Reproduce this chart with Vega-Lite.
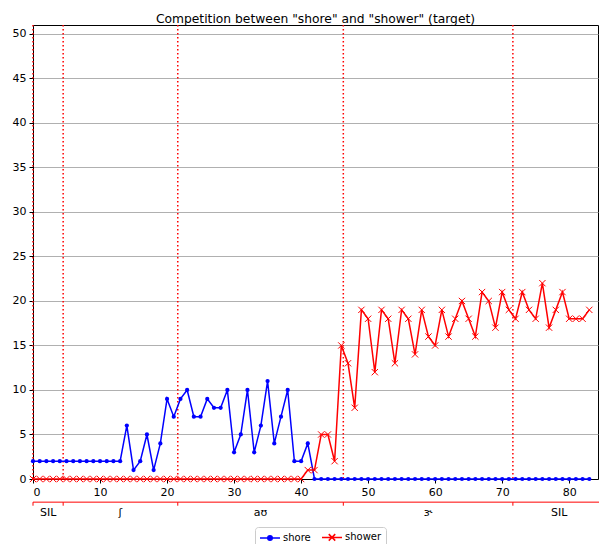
{
  "$schema": "https://vega.github.io/schema/vega-lite/v6.json",
  "width": 565,
  "height": 454,
  "autosize": {"type": "none"},
  "padding": {"left": 33, "top": 25, "right": 1, "bottom": 65},
  "title": {"text": "Competition between \"shore\" and \"shower\" (target)", "fontSize": 12.3, "fontWeight": "normal", "offset": -1, "color": "#000000", "anchor": "middle"},
  "datasets": {
    "counts": [
      {"frame": 0, "shore": 2, "shower": 0}, {"frame": 1, "shore": 2, "shower": 0}, {"frame": 2, "shore": 2, "shower": 0},
      {"frame": 3, "shore": 2, "shower": 0}, {"frame": 4, "shore": 2, "shower": 0}, {"frame": 5, "shore": 2, "shower": 0},
      {"frame": 6, "shore": 2, "shower": 0}, {"frame": 7, "shore": 2, "shower": 0}, {"frame": 8, "shore": 2, "shower": 0},
      {"frame": 9, "shore": 2, "shower": 0}, {"frame": 10, "shore": 2, "shower": 0}, {"frame": 11, "shore": 2, "shower": 0},
      {"frame": 12, "shore": 2, "shower": 0}, {"frame": 13, "shore": 2, "shower": 0}, {"frame": 14, "shore": 6, "shower": 0},
      {"frame": 15, "shore": 1, "shower": 0}, {"frame": 16, "shore": 2, "shower": 0}, {"frame": 17, "shore": 5, "shower": 0},
      {"frame": 18, "shore": 1, "shower": 0}, {"frame": 19, "shore": 4, "shower": 0}, {"frame": 20, "shore": 9, "shower": 0},
      {"frame": 21, "shore": 7, "shower": 0}, {"frame": 22, "shore": 9, "shower": 0}, {"frame": 23, "shore": 10, "shower": 0},
      {"frame": 24, "shore": 7, "shower": 0}, {"frame": 25, "shore": 7, "shower": 0}, {"frame": 26, "shore": 9, "shower": 0},
      {"frame": 27, "shore": 8, "shower": 0}, {"frame": 28, "shore": 8, "shower": 0}, {"frame": 29, "shore": 10, "shower": 0},
      {"frame": 30, "shore": 3, "shower": 0}, {"frame": 31, "shore": 5, "shower": 0}, {"frame": 32, "shore": 10, "shower": 0},
      {"frame": 33, "shore": 3, "shower": 0}, {"frame": 34, "shore": 6, "shower": 0}, {"frame": 35, "shore": 11, "shower": 0},
      {"frame": 36, "shore": 4, "shower": 0}, {"frame": 37, "shore": 7, "shower": 0}, {"frame": 38, "shore": 10, "shower": 0},
      {"frame": 39, "shore": 2, "shower": 0}, {"frame": 40, "shore": 2, "shower": 0}, {"frame": 41, "shore": 4, "shower": 1},
      {"frame": 42, "shore": 0, "shower": 1}, {"frame": 43, "shore": 0, "shower": 5}, {"frame": 44, "shore": 0, "shower": 5},
      {"frame": 45, "shore": 0, "shower": 2}, {"frame": 46, "shore": 0, "shower": 15}, {"frame": 47, "shore": 0, "shower": 13},
      {"frame": 48, "shore": 0, "shower": 8}, {"frame": 49, "shore": 0, "shower": 19}, {"frame": 50, "shore": 0, "shower": 18},
      {"frame": 51, "shore": 0, "shower": 12}, {"frame": 52, "shore": 0, "shower": 19}, {"frame": 53, "shore": 0, "shower": 18},
      {"frame": 54, "shore": 0, "shower": 13}, {"frame": 55, "shore": 0, "shower": 19}, {"frame": 56, "shore": 0, "shower": 18},
      {"frame": 57, "shore": 0, "shower": 14}, {"frame": 58, "shore": 0, "shower": 19}, {"frame": 59, "shore": 0, "shower": 16},
      {"frame": 60, "shore": 0, "shower": 15}, {"frame": 61, "shore": 0, "shower": 19}, {"frame": 62, "shore": 0, "shower": 16},
      {"frame": 63, "shore": 0, "shower": 18}, {"frame": 64, "shore": 0, "shower": 20}, {"frame": 65, "shore": 0, "shower": 18},
      {"frame": 66, "shore": 0, "shower": 16}, {"frame": 67, "shore": 0, "shower": 21}, {"frame": 68, "shore": 0, "shower": 20},
      {"frame": 69, "shore": 0, "shower": 17}, {"frame": 70, "shore": 0, "shower": 21}, {"frame": 71, "shore": 0, "shower": 19},
      {"frame": 72, "shore": 0, "shower": 18}, {"frame": 73, "shore": 0, "shower": 21}, {"frame": 74, "shore": 0, "shower": 19},
      {"frame": 75, "shore": 0, "shower": 18}, {"frame": 76, "shore": 0, "shower": 22}, {"frame": 77, "shore": 0, "shower": 17},
      {"frame": 78, "shore": 0, "shower": 19}, {"frame": 79, "shore": 0, "shower": 21}, {"frame": 80, "shore": 0, "shower": 18},
      {"frame": 81, "shore": 0, "shower": 18}, {"frame": 82, "shore": 0, "shower": 18}, {"frame": 83, "shore": 0, "shower": 19}
    ],
    "phones": [
      {"phone": "SIL", "start": 0, "end": 4.5, "mid": 2.25},
      {"phone": "ʃ", "start": 4.5, "end": 21.6, "mid": 13.05},
      {"phone": "aʊ", "start": 21.6, "end": 46.3, "mid": 33.95},
      {"phone": "ɝ", "start": 46.3, "end": 71.6, "mid": 58.95},
      {"phone": "SIL", "start": 71.6, "end": 85.4, "mid": 78.5}
    ]
  },
  "layer": [
    {
      "data": {"name": "phones"},
      "mark": {"type": "rule", "color": "red", "strokeDash": [1.5, 2.5], "strokeWidth": 1.5},
      "encoding": {
        "x": {"field": "start", "type": "quantitative", "title": null,
              "scale": {"domain": [0, 84.3], "nice": false, "zero": false},
              "axis": {"values": [0, 10, 20, 30, 40, 50, 60, 70, 80], "grid": false}}
      }
    },
    {
      "mark": {"type": "rule", "color": "red", "strokeDash": [6, 4], "strokeWidth": 1.5},
      "encoding": {"y": {"datum": 1}}
    },
    {
      "data": {"name": "counts"},
      "transform": [{"fold": ["shore", "shower"], "as": ["series", "count"]}],
      "mark": {"type": "line", "strokeWidth": 1.5},
      "encoding": {
        "x": {"field": "frame", "type": "quantitative", "title": null},
        "y": {"field": "count", "type": "quantitative", "title": null,
              "scale": {"domain": [0, 51], "nice": false, "zero": false},
              "axis": {"values": [0, 5, 10, 15, 20, 25, 30, 35, 40, 45, 50]}},
        "color": {"field": "series", "type": "nominal",
                  "scale": {"domain": ["shore", "shower"], "range": ["#0000ff", "#ff0000"]},
                  "legend": {
                    "orient": "none", "legendX": 222, "legendY": 502, "direction": "horizontal", "title": null,
                    "padding": 4, "strokeColor": "#cccccc", "fillColor": "#ffffff", "cornerRadius": 3,
                    "symbolSize": 100, "symbolOffset": 5, "labelOffset": 7, "columnPadding": 8,
                    "labelFontSize": 10, "labelColor": "#000000",
                    "encode": {"symbols": {"update": {
                      "shape": [
                        {"test": "datum.value === 'shore'", "value": "M-2,0L2,0M-0.45,0A0.45,0.45,0,1,0,0.45,0A0.45,0.45,0,1,0,-0.45,0Z"},
                        {"value": "M-2,0L2,0M-0.65,-0.65L0.65,0.65M-0.65,0.65L0.65,-0.65"}
                      ],
                      "stroke": {"scale": "color", "field": "value"},
                      "fill": [
                        {"test": "datum.value === 'shore'", "scale": "color", "field": "value"},
                        {"value": "transparent"}
                      ],
                      "strokeWidth": {"value": 1.5},
                      "opacity": {"value": 1}
                    }}}
                  }}
      }
    },
    {
      "data": {"name": "counts"},
      "transform": [{"fold": ["shore", "shower"], "as": ["series", "count"]}, {"filter": "datum.series === 'shore'"}],
      "mark": {"type": "point", "shape": "circle", "size": 18, "filled": true, "opacity": 1},
      "encoding": {
        "x": {"field": "frame", "type": "quantitative", "title": null},
        "y": {"field": "count", "type": "quantitative", "title": null},
        "color": {"field": "series", "type": "nominal"}
      }
    },
    {
      "data": {"name": "counts"},
      "transform": [{"fold": ["shore", "shower"], "as": ["series", "count"]}, {"filter": "datum.series === 'shower'"}],
      "mark": {"type": "point", "shape": "M-1,-1L1,1M-1,1L1,-1", "size": 40, "filled": false, "strokeWidth": 1, "opacity": 1},
      "encoding": {
        "x": {"field": "frame", "type": "quantitative", "title": null},
        "y": {"field": "count", "type": "quantitative", "title": null},
        "color": {"field": "series", "type": "nominal"}
      }
    },
    {
      "data": {"name": "phones"},
      "mark": {"type": "rule", "color": "red", "strokeWidth": 1},
      "encoding": {
        "x": {"field": "start", "type": "quantitative", "title": null},
        "x2": {"field": "end"},
        "y": {"datum": -2.6}
      }
    },
    {
      "data": {"name": "phones"},
      "mark": {"type": "rule", "color": "red", "strokeWidth": 1},
      "encoding": {
        "x": {"field": "start", "type": "quantitative", "title": null},
        "y": {"datum": -2.6},
        "y2": {"datum": -3.0}
      }
    },
    {
      "data": {"name": "phones"},
      "mark": {"type": "text", "fontSize": 11, "color": "#000000", "baseline": "middle", "align": "center"},
      "encoding": {
        "x": {"field": "mid", "type": "quantitative", "title": null},
        "y": {"datum": -3.8},
        "text": {"field": "phone"}
      }
    }
  ],
  "config": {
    "font": "DejaVu Sans",
    "view": {"stroke": "#000000", "strokeWidth": 1},
    "axis": {"labelFontSize": 11, "labelColor": "#000000", "tickColor": "#000000", "domainColor": "#000000", "tickSize": 4, "labelPadding": 3},
    "axisY": {"grid": true, "gridColor": "#b0b0b0", "gridWidth": 1},
    "axisX": {"grid": false}
  }
}
